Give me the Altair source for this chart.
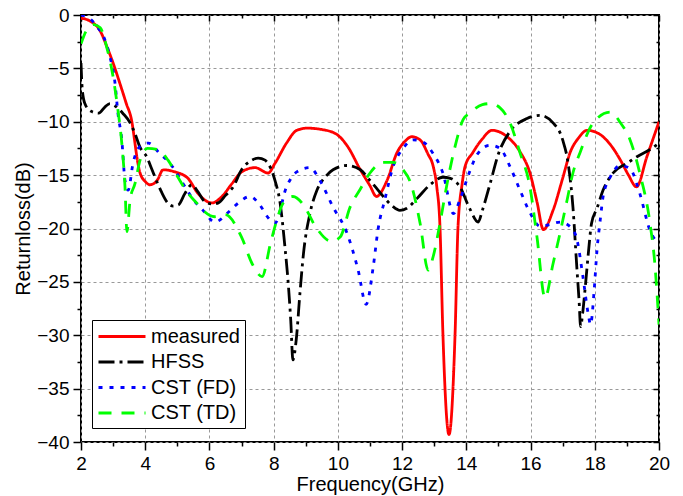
import altair as alt
import pandas as pd

series_names = ["measured", "HFSS", "CST (FD)", "CST (TD)"]
series_colors = ["#ff0000", "#000000", "#0000ff", "#00ff00"]
series_dashes = [[1, 0], [16, 5, 3, 5], [4, 7], [13, 10]]

measured_f = [2.0, 2.3, 2.6, 2.81, 3.0, 3.21, 3.4, 3.59, 3.68, 3.74, 3.84, 4.0, 4.15, 4.37, 4.56, 4.93,
              5.33, 5.64, 6.08, 6.39, 6.7, 7.0, 7.42, 7.83, 8.04, 8.4, 8.72, 9.04, 9.44, 9.92, 10.3,
              10.7, 11.0, 11.2, 11.53, 11.84, 12.1, 12.3, 12.56, 12.8, 12.97, 13.08, 13.18, 13.27,
              13.46, 13.65, 13.74, 13.87, 13.96, 14.2, 14.5, 14.8, 15.27, 15.67, 15.98, 16.2, 16.4,
              16.7, 17.0, 17.23, 17.5, 17.76, 18.17, 18.5, 18.8, 19.05, 19.3, 19.62, 20.0]
measured_db = [-0.3, -0.6, -1.5, -3.0, -4.5, -6.4, -8.2, -10.1, -12.0, -13.3, -14.8, -15.6, -15.9, -15.5,
               -14.5, -14.7, -15.3, -16.7, -17.6, -17.0, -15.8, -14.7, -14.3, -14.8, -13.9, -12.0, -10.8,
               -10.6, -10.7, -11.1, -12.3, -14.5, -16.0, -17.0, -15.5, -12.9, -11.8, -11.4, -11.7, -13.0,
               -14.2, -16.1, -19.9, -29.8, -39.3, -29.8, -19.9, -15.8, -14.2, -12.9, -11.6, -10.8, -11.4,
               -12.8, -14.8, -17.5, -20.1, -18.3, -15.3, -12.9, -11.5, -10.8, -11.2, -12.2, -13.6, -15.0,
               -16.1, -13.3, -10.0]

hfss_f = [2.0, 2.04, 2.12, 2.3, 2.55, 2.75, 2.9, 3.1, 3.3, 3.53, 3.68, 3.84, 4.05, 4.2, 4.36, 4.51, 4.7,
          4.87, 5.03, 5.24, 5.45, 5.65, 5.86, 6.1, 6.28, 6.5, 6.74, 7.0, 7.32, 7.52, 7.73, 7.9, 8.04, 8.2,
          8.35, 8.45, 8.53, 8.6, 8.7, 8.82, 8.93, 9.13, 9.35, 9.6, 9.85, 10.28, 10.7, 11.0, 11.25, 11.47,
          11.7, 11.93, 12.15, 12.46, 12.87, 13.27, 13.5, 13.8, 14.1, 14.37, 14.5, 14.74, 15.0, 15.36,
          15.89, 16.3, 16.7, 17.0, 17.17, 17.32, 17.44, 17.51, 17.56, 17.62, 17.7, 17.8, 17.9, 18.07,
          18.26, 18.57, 19.0, 19.3, 19.72, 20.0]
hfss_db = [-4.5, -7.0, -8.3, -9.0, -9.2, -8.6, -8.3, -8.6, -9.2, -10.1, -11.1, -12.4, -13.3, -14.4, -15.6,
           -16.6, -17.6, -17.9, -17.8, -16.7, -15.9, -16.6, -17.5, -17.7, -17.6, -16.9, -16.1, -14.5,
           -13.6, -13.4, -13.6, -14.3, -15.5, -17.6, -21.7, -25.0, -28.5, -32.3, -30.5, -26.0, -22.3,
           -18.6, -16.4, -15.2, -14.5, -14.1, -14.5, -15.5, -16.4, -17.2, -17.9, -18.3, -18.1, -17.2,
           -15.9, -15.2, -15.3, -16.1, -18.1, -19.4, -18.3, -15.8, -13.0, -10.9, -9.7, -9.4, -10.1,
           -11.7, -13.9, -18.0, -23.6, -26.7, -29.2, -28.0, -25.6, -22.3, -19.5, -18.1, -16.4, -14.8,
           -13.9, -13.3, -12.6, -12.0]

fd_f = [2.0, 2.3, 2.5, 2.7, 2.9, 3.06, 3.15, 3.27, 3.37, 3.47, 3.62, 3.84, 4.1, 4.46, 4.77, 5.18, 5.5,
        5.8, 6.17, 6.58, 6.9, 7.26, 7.57, 7.83, 8.04, 8.4, 8.72, 9.13, 9.44, 9.85, 10.28, 10.63, 10.88,
        11.1, 11.25, 11.47, 11.72, 12.03, 12.34, 12.65, 12.97, 13.27, 13.6, 13.8, 14.1, 14.33, 14.74,
        15.05, 15.36, 15.67, 15.98, 16.3, 16.5, 16.92, 17.29, 17.45, 17.63, 17.79, 17.87, 17.98, 18.07,
        18.17, 18.26, 18.48, 18.8, 19.1, 19.4, 19.72, 20.0]
fd_db = [0.0, -0.4, -1.1, -2.0, -3.9, -6.4, -9.2, -11.7, -15.5, -16.4, -13.9, -12.3, -12.0, -13.0, -13.9,
         -15.8, -17.3, -18.3, -19.4, -18.5, -17.6, -17.0, -17.8, -19.0, -19.5, -16.1, -14.7, -14.3, -15.5,
         -18.0, -20.4, -23.9, -27.1, -23.6, -20.1, -17.2, -14.2, -12.5, -11.7, -11.9, -13.0, -14.8,
         -18.6, -17.3, -14.7, -13.1, -12.2, -12.5, -14.2, -16.4, -18.5, -19.8, -19.7, -19.4, -20.0,
         -21.1, -24.5, -27.9, -29.0, -25.8, -22.0, -19.2, -17.0, -15.2, -14.1, -14.4, -16.7, -20.2,
         -21.4]

td_f = [2.0, 2.18, 2.4, 2.6, 2.8, 3.0, 3.15, 3.27, 3.37, 3.43, 3.53, 3.68, 3.84, 4.07, 4.4, 4.71, 5.02,
        5.33, 5.6, 5.8, 6.17, 6.49, 7.0, 7.33, 7.64, 7.9, 8.1, 8.3, 8.6, 8.93, 9.3, 9.8, 10.07, 10.38,
        10.7, 11.0, 11.4, 11.72, 12.03, 12.25, 12.56, 12.81, 12.97, 13.18, 13.4, 13.65, 13.9, 14.1,
        14.5, 14.74, 15.05, 15.36, 15.67, 15.98, 16.2, 16.45, 16.7, 16.92, 17.14, 17.32, 17.54, 17.95,
        18.48, 18.8, 19.1, 19.4, 19.72, 19.87, 20.0]
td_db = [-2.7, -1.4, -0.9, -1.2, -3.0, -5.8, -8.9, -12.0, -16.1, -20.3, -17.3, -15.8, -13.6, -12.5, -12.6,
         -13.6, -15.2, -16.7, -17.6, -18.3, -18.9, -18.7, -20.8, -23.3, -24.5, -21.4, -19.2, -17.6, -17.0,
         -17.8, -19.8, -21.2, -20.8, -18.0, -16.3, -14.8, -13.8, -13.8, -14.5, -15.6, -19.5, -23.9,
         -22.6, -19.5, -15.8, -12.3, -9.8, -9.2, -8.4, -8.3, -8.7, -10.1, -12.9, -16.1, -20.8, -26.5,
         -23.3, -20.4, -17.3, -14.8, -12.9, -10.1, -9.1, -10.1, -11.7, -14.8, -19.5, -23.3, -29.0]

x_major = [2, 4, 6, 8, 10, 12, 14, 16, 18, 20]
x_minor = [3, 5, 7, 9, 11, 13, 15, 17, 19]
y_major = [-40, -35, -30, -25, -20, -15, -10, -5, 0]
y_minor = [-37.5, -32.5, -27.5, -22.5, -17.5, -12.5, -7.5, -2.5]

rows = []
for name, fs, ds in [(series_names[0], measured_f, measured_db),
                     (series_names[1], hfss_f, hfss_db),
                     (series_names[2], fd_f, fd_db),
                     (series_names[3], td_f, td_db)]:
    for f, d in zip(fs, ds):
        rows.append({"series": name, "freq": f, "db": d})
df = pd.DataFrame(rows)

FONT = "Liberation Sans"
xs = alt.Scale(domain=[2, 20], nice=False, zero=False)
ys = alt.Scale(domain=[-40, 0], nice=False, zero=False)

base = alt.Chart(df)

legend_props = dict(
    orient="none", legendX=11, legendY=305, title=None,
    strokeColor="black", fillColor="white", padding=5,
    symbolType="M-1,0H3.7", symbolSize=400, symbolStrokeWidth=3,
    labelFontSize=20, labelFont=FONT, labelColor="black", labelOffset=31,
    rowPadding=3.5, labelLimit=300,
)

lines = base.mark_line(strokeWidth=2.8, interpolate="monotone", clip=True).encode(
    x=alt.X("freq:Q", scale=xs, axis=alt.Axis(
        orient="bottom", values=x_major, title="Frequency(GHz)", format="d",
        grid=True, gridDash=[3, 3], gridColor="#999999", gridWidth=1,
        domain=False, tickSize=8, tickColor="black", tickWidth=1.5,
        labelPadding=4, labelFont=FONT, labelFontSize=19, labelColor="black", labelFlush=False,
        titleFont=FONT, titleFontSize=20, titleFontWeight="normal", titleColor="black", titlePadding=1)),
    y=alt.Y("db:Q", scale=ys, axis=alt.Axis(
        orient="left", values=y_major, title="Returnloss(dB)", format="d",
        grid=True, gridDash=[3, 3], gridColor="#999999", gridWidth=1,
        domain=False, tickSize=8, tickColor="black", tickWidth=1.5,
        labelPadding=4, labelFont=FONT, labelFontSize=19, labelColor="black", labelFlush=False,
        titleFont=FONT, titleFontSize=20, titleFontWeight="normal", titleColor="black", titlePadding=3)),
    color=alt.Color("series:N", scale=alt.Scale(domain=series_names, range=series_colors),
                    legend=alt.Legend(**legend_props)),
    strokeDash=alt.StrokeDash("series:N", scale=alt.Scale(domain=series_names, range=series_dashes),
                              legend=alt.Legend(**legend_props)),
    order="freq:Q",
)


def tick_layer(xorient, yorient, xvals, yvals, size, offset):
    return base.mark_point(opacity=0).encode(
        x=alt.X("freq:Q", scale=xs, axis=alt.Axis(
            orient=xorient, values=xvals, labels=False, title=None, grid=False, domain=False,
            tickSize=size, tickColor="black", tickWidth=1.5, offset=offset)),
        y=alt.Y("db:Q", scale=ys, axis=alt.Axis(
            orient=yorient, values=yvals, labels=False, title=None, grid=False, domain=False,
            tickSize=size, tickColor="black", tickWidth=1.5, offset=offset)),
    )


minor_out = tick_layer("bottom", "left", x_minor, y_minor, 4, 0)
major_in = tick_layer("top", "right", x_major, y_major, 6, -6)
minor_in = tick_layer("top", "right", x_minor, y_minor, 3, -3)

chart = alt.layer(lines, minor_out, major_in, minor_in).resolve_axis(
    x="independent", y="independent"
).properties(
    width=578, height=427,
    autosize=alt.AutoSizeParams(type="none"),
    padding={"left": 81, "top": 15, "right": 24, "bottom": 54},
).configure_view(stroke="black", strokeWidth=2)

chart.save("out.html", embed_options={"renderer": "svg", "actions": False})
